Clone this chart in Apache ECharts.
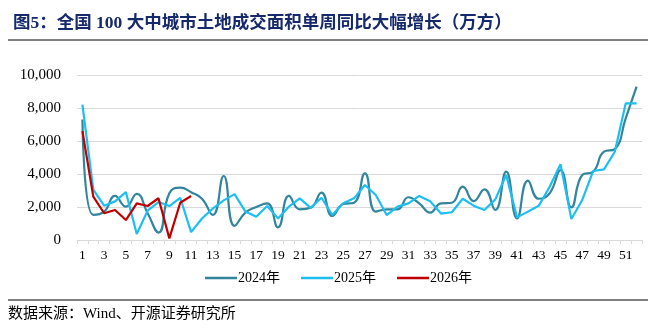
<!DOCTYPE html>
<html>
<head>
<meta charset="utf-8">
<style>
html,body{margin:0;padding:0;background:#fff;}
#chart{width:655px;height:335px;}
</style>
<script src="https://cdn.jsdelivr.net/npm/echarts@6/dist/echarts.min.js"></script>
</head>
<body>
<div id="chart"></div>
<script>
var weeks = ['1','2','3','4','5','6','7','8','9','10','11','12','13','14','15','16','17','18','19','20','21','22','23','24','25','26','27','28','29','30','31','32','33','34','35','36','37','38','39','40','41','42','43','44','45','46','47','48','49','50','51','52'];
var s2024 = [7300,1520,1720,2670,2020,2790,1620,450,2830,3170,2900,2500,1520,3880,860,1660,2000,2220,770,2670,1860,1950,2870,1455,2180,2260,4040,1720,1860,1860,2590,2220,1660,2220,2260,3230,2360,3070,1820,4140,1310,3600,2500,2830,4240,1980,3940,4140,5350,5510,7370,9290];
var s2025 = [8200,3050,2080,2340,2900,360,1780,2300,2060,2560,480,1300,1900,2400,2780,1720,1410,2060,1310,2020,2525,1950,2560,1515,2220,2525,3330,2730,1515,2020,2220,2670,2350,1600,1680,2500,2080,1820,2460,3940,1370,1720,2070,3230,4590,1270,2420,4180,4280,5350,8280,8280];
var s2026 = [6600,2630,1620,1820,1210,2220,2060,2530,100,2260,2670];
var seriesNames = ['2024年','2025年','2026年'];
var yTicks = [0,2000,4000,6000,8000,10000];

var chart = echarts.init(document.getElementById('chart'), null, {renderer:'canvas'});
var serifFont = '"Liberation Serif","Noto Sans CJK SC",serif';
var option = {
  animation:false,
  backgroundColor:'#ffffff',
  title:{
    text:'图5：全国 100 大中城市土地成交面积单周同比大幅增长（万方）',
    left:8, top:10,
    textStyle:{fontSize:17.5,fontWeight:'bold',color:'#16296B',fontFamily:serifFont}
  },
  graphic:[
    {type:'line',shape:{x1:8,y1:40,x2:648,y2:40},style:{stroke:'#000',lineWidth:1}},
    {type:'line',shape:{x1:8,y1:300,x2:648,y2:300},style:{stroke:'#000',lineWidth:1}},
    {type:'text',left:8,top:307,style:{text:'数据来源：Wind、开源证券研究所',fontSize:15,fill:'#000',fontFamily:serifFont}}
  ],
  legend:{
    data:seriesNames,
    left:200, top:266,
    icon:'rect', itemWidth:32, itemHeight:2.5, itemGap:21,
    textStyle:{fontSize:14,color:'#000',fontFamily:serifFont,padding:[0,0,0,-4]}
  },
  grid:{left:77,right:13,top:75,bottom:95,containLabel:false},
  xAxis:{
    type:'category',
    data:weeks,
    boundaryGap:true,
    axisLine:{lineStyle:{color:'#D9D9D9',width:1}},
    axisTick:{show:true,interval:0,length:4,lineStyle:{color:'#D9D9D9'}},
    axisLabel:{interval:1,margin:9,fontSize:13.5,color:'#000',fontFamily:serifFont}
  },
  yAxis:{
    type:'value',
    min:yTicks[0], max:yTicks[yTicks.length-1], interval:2000,
    axisLine:{show:false},
    axisTick:{show:false},
    splitLine:{lineStyle:{color:'#D9D9D9',width:1}},
    axisLabel:{margin:16,fontSize:15,color:'#000',fontFamily:serifFont,
      formatter:function(v){return String(v).replace(/\B(?=(\d{3})+(?!\d))/g, ',');}}
  },
  series:[
    {name:seriesNames[0],type:'line',data:s2024,smooth:0.5,symbol:'none',lineStyle:{color:'#31859C',width:2.2},itemStyle:{color:'#31859C'}},
    {name:seriesNames[1],type:'line',data:s2025,smooth:false,symbol:'none',lineStyle:{color:'#1CBFF0',width:2.2},itemStyle:{color:'#1CBFF0'}},
    {name:seriesNames[2],type:'line',data:s2026,smooth:false,symbol:'none',lineStyle:{color:'#C00000',width:2.2},itemStyle:{color:'#C00000'}}
  ]
};
chart.setOption(option);
</script>
</body>
</html>
